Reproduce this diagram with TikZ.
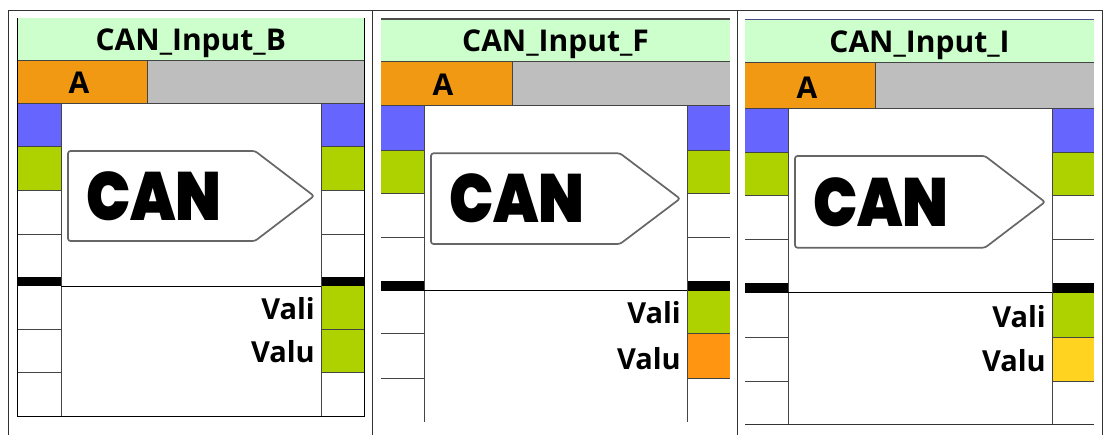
\documentclass[tikz,border=0pt]{standalone}
\usepackage{fontspec}
\setmainfont{Open Sans}[BoldFont=Open Sans Bold]
\newfontfamily\logofont{Poppins Black}
\definecolor{titlegreen}{HTML}{CCFFCC}
\definecolor{rowor}{HTML}{F29913}
\definecolor{rowgr}{HTML}{BEBEBE}
\definecolor{pinblue}{HTML}{6666FF}
\definecolor{pingreen}{HTML}{AED100}
\definecolor{pinor}{HTML}{FF9510}
\definecolor{pinyel}{HTML}{FFD320}
\definecolor{linegr}{HTML}{444444}
\tikzset{
  x=1pt,y=-1pt,
  gridline/.style={draw=linegr,line width=1pt},
  framel/.style={draw=black!80,line width=1pt},
  titletext/.style={font=\bfseries\fontsize{30}{30}\selectfont,inner sep=0pt,anchor=base},
  pintext/.style={font=\bfseries\fontsize{29}{29}\selectfont,inner sep=0pt,anchor=base east},
  logotext/.style={font=\logofont\fontsize{56}{56}\selectfont,inner sep=0pt,anchor=center,xscale=1.05,yscale=1.22},
  arrowline/.style={draw=black!60,line width=1.7pt,rounded corners=2.5pt,fill=white},
}
\begin{document}
\begin{tikzpicture}
\useasboundingbox (0,0) rectangle (1104,435);
\fill[white] (0,0) rectangle (1104,435);
% outer table
\draw[framel] (8.3,435) -- (8.3,10.5) -- (1102,10.5) -- (1102,435);
\draw[framel] (372.7,10.5) -- (372.7,435);
\draw[framel] (737.2,10.5) -- (737.2,435);
\foreach \nm/\xa/\xb/\xd/\xl/\xr/\ya/\yb/\yc/\yd/\ye/\yf/\yg/\yh/\yi/\yj/\yk/\ym/\col/\lx/\la/\lb/\lc/\ld/\le in {
  B/17/364.5/147/61/321/18/60.5/103.5/146.7/191/234.5/277.5/286.5/329.5/372.5/417/417/pingreen/68/151/196/241/255/314,
  F/381/730/512.3/424/687/19/62/105.5/150.5/194/237.7/281.3/290.7/333.7/379/421.7/421.7/pinor/431/153.3/198.7/244/620/680,
  I/745/1094/875.7/788/1052/19.5/63/108.5/152.5/196/240/283.3/292.7/337.3/381.3/425/425/pinyel/795/156/202/247.7/985/1045}
{
  % title and header fills
  \fill[titlegreen] (\xa,\ya) rectangle (\xb,\yb);
  \fill[rowor] (\xa,\yb) rectangle (\xd,\yc);
  \fill[rowgr] (\xd,\yb) rectangle (\xb,\yc);
  % pins
  \fill[pinblue] (\xa,\yc) rectangle (\xl,\yd);
  \fill[pinblue] (\xr,\yc) rectangle (\xb,\yd);
  \fill[pingreen] (\xa,\yd) rectangle (\xl,\ye);
  \fill[pingreen] (\xr,\yd) rectangle (\xb,\ye);
  \fill[pingreen] (\xr,\yh) rectangle (\xb,\yi);
  \fill[\col] (\xr,\yi) rectangle (\xb,\yj);
  % black bars
  \fill[black] (\xa,\yg-0.4) rectangle (\xl,\yh);
  \fill[black] (\xr,\yg-0.4) rectangle (\xb,\yh);
  % lines
  \draw[gridline] (\xa,\yb) -- (\xb,\yb);
  \draw[gridline] (\xa,\yc) -- (\xb,\yc);
  \draw[gridline] (\xd,\yb) -- (\xd,\yc);
  \draw[gridline] (\xl,\yc) -- (\xl,\yk);
  \draw[gridline] (\xr,\yc) -- (\xr,\yk);
  \draw[black,line width=1.1pt] (\xl,\yh) -- (\xr,\yh);
  \foreach \yy in {\yd,\ye,\yf,\yi,\yj} {
    \draw[gridline] (\xa,\yy) -- (\xl,\yy);
    \draw[gridline] (\xr,\yy) -- (\xb,\yy);
  }
  % logo
  \draw[arrowline] (\lx,\la) -- (\ld,\la) -- (\le,\lb) -- (\ld,\lc) -- (\lx,\lc) -- cycle;
  \node[logotext] (logo\nm) at ({\lx+86},{\lb}) {CAN};
  % texts
  \node[titletext] (title\nm) at ({(\xa+\xb)/2},{\yb-10}) {CAN\_Input\_\nm};
  \node[titletext] (hdr\nm) at ({\xa+62},{\yc-9.5}) {A};
  \node[pintext] (vali\nm) at (\xr-6,{\yi-9.8}) {Vali};
  \node[pintext] (valu\nm) at (\xr-6,{\yj-9.8}) {Valu};
}
% panel specific frames
\draw[black,line width=1pt] (17,18) -- (17,417) -- (364.5,417) -- (364.5,18);
\draw[black!80,line width=1pt] (745,425) -- (1094,425);
\draw[black!70,line width=1.2pt] (381,19) -- (730,19);
\draw[black!45!blue!40!gray,line width=1.5pt] (745,19.5) -- (1094,19.5);
\end{tikzpicture}
\end{document}
